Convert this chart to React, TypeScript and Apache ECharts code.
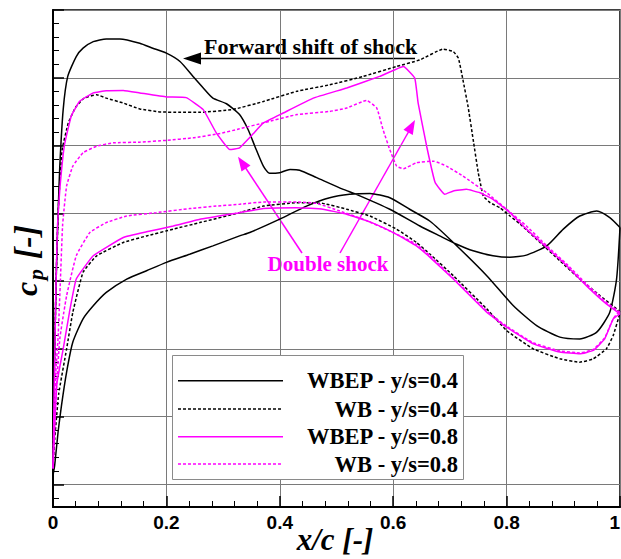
import React, { useEffect, useRef } from "react";
import * as echarts from "echarts";

// Pressure coefficient distributions, [x/c, cp], each surface listed from the leading edge aft.
const wbep04Upper: number[][] = [
  [0, 0.56], [0.001, 0.3], [0.003, 0.0], [0.006, -0.35], [0.009, -0.6], [0.012, -0.81], [0.018, -1.06],
  [0.026, -1.206], [0.041, -1.294], [0.053, -1.331], [0.071, -1.36], [0.094, -1.372], [0.118, -1.372],
  [0.153, -1.353], [0.176, -1.331], [0.2, -1.309], [0.224, -1.272], [0.247, -1.206], [0.265, -1.155],
  [0.282, -1.11], [0.306, -1.085], [0.329, -1.037], [0.344, -0.971], [0.356, -0.897], [0.371, -0.809],
  [0.382, -0.777], [0.4, -0.78], [0.418, -0.794], [0.435, -0.791], [0.465, -0.758], [0.512, -0.706],
  [0.535, -0.684], [0.594, -0.618], [0.647, -0.544], [0.682, -0.5], [0.712, -0.463], [0.741, -0.434],
  [0.776, -0.412], [0.806, -0.405], [0.835, -0.415], [0.871, -0.456], [0.9, -0.53], [0.929, -0.588],
  [0.959, -0.61], [0.982, -0.581], [1.0, -0.537],
];
const wbep04Lower: number[][] = [
  [0, 0.56], [0.003, 0.515], [0.009, 0.367], [0.015, 0.25], [0.024, 0.103], [0.035, -0.03], [0.053, -0.133],
  [0.071, -0.191], [0.094, -0.25], [0.13, -0.309], [0.165, -0.346], [0.2, -0.383], [0.241, -0.419],
  [0.282, -0.456], [0.329, -0.5], [0.347, -0.515], [0.4, -0.574], [0.447, -0.632], [0.488, -0.669],
  [0.523, -0.684], [0.559, -0.688], [0.594, -0.669], [0.629, -0.618], [0.665, -0.565], [0.706, -0.471],
  [0.765, -0.324], [0.812, -0.191], [0.853, -0.103], [0.894, -0.052], [0.929, -0.044], [0.959, -0.074],
  [0.982, -0.162], [0.994, -0.31], [1.0, -0.537],
];
const wb04Upper: number[][] = [
  [0, 0.53], [0.002, 0.2], [0.005, -0.25], [0.009, -0.6], [0.016, -0.88], [0.027, -1.0], [0.04, -1.07],
  [0.055, -1.11], [0.077, -1.125], [0.094, -1.11], [0.124, -1.088], [0.153, -1.062], [0.188, -1.049],
  [0.224, -1.047], [0.259, -1.047], [0.318, -1.06], [0.371, -1.095], [0.43, -1.14], [0.488, -1.169],
  [0.547, -1.206], [0.606, -1.25], [0.647, -1.279], [0.688, -1.327], [0.706, -1.316], [0.715, -1.287],
  [0.723, -1.191], [0.732, -1.073], [0.741, -0.927], [0.75, -0.78], [0.756, -0.706], [0.759, -0.676],
  [0.771, -0.647], [0.788, -0.625], [0.806, -0.588], [0.824, -0.552], [0.859, -0.471], [0.894, -0.39],
  [0.929, -0.309], [0.965, -0.235], [0.994, -0.177], [1.0, -0.162],
];
const wb04Lower: number[][] = [
  [0, 0.53], [0.003, 0.4], [0.01, 0.2], [0.024, 0.0], [0.035, -0.162], [0.053, -0.339], [0.077, -0.412],
  [0.124, -0.471], [0.165, -0.5], [0.212, -0.53], [0.259, -0.559], [0.329, -0.603], [0.371, -0.632],
  [0.43, -0.647], [0.476, -0.644], [0.518, -0.618], [0.559, -0.588], [0.606, -0.53], [0.641, -0.471],
  [0.665, -0.419], [0.706, -0.324], [0.765, -0.177], [0.8, -0.081], [0.847, 0.0], [0.894, 0.044],
  [0.929, 0.059], [0.953, 0.044], [0.976, 0.0], [0.988, -0.059], [0.997, -0.133], [1.0, -0.162],
];
const wbep08Upper: number[][] = [
  [0, 0.53], [0.002, 0.2], [0.005, -0.25], [0.008, -0.55], [0.012, -0.706], [0.02, -0.9], [0.032, -1.029],
  [0.047, -1.096], [0.071, -1.133], [0.094, -1.143], [0.124, -1.144], [0.153, -1.133], [0.2, -1.115],
  [0.235, -1.112], [0.265, -1.059], [0.288, -0.956], [0.312, -0.882], [0.329, -0.89], [0.353, -0.952],
  [0.371, -1.0], [0.406, -1.044], [0.459, -1.11], [0.518, -1.155], [0.576, -1.206], [0.618, -1.25],
  [0.638, -1.199], [0.644, -1.088], [0.659, -0.897], [0.674, -0.736], [0.691, -0.684], [0.706, -0.699],
  [0.729, -0.706], [0.753, -0.691], [0.776, -0.662], [0.806, -0.603], [0.835, -0.53], [0.871, -0.449],
  [0.906, -0.368], [0.941, -0.279], [0.976, -0.199], [1.0, -0.155],
];
const wbep08Lower: number[][] = [
  [0, 0.53], [0.003, 0.35], [0.007, 0.15], [0.018, 0.0], [0.029, -0.162], [0.041, -0.309], [0.071, -0.412],
  [0.124, -0.493], [0.165, -0.518], [0.212, -0.544], [0.259, -0.574], [0.329, -0.603], [0.371, -0.621],
  [0.43, -0.625], [0.476, -0.618], [0.518, -0.596], [0.559, -0.562], [0.606, -0.507], [0.641, -0.456],
  [0.665, -0.405], [0.706, -0.309], [0.765, -0.162], [0.8, -0.096], [0.847, -0.022], [0.894, 0.014],
  [0.929, 0.022], [0.953, 0.007], [0.973, -0.044], [0.988, -0.133], [1.0, -0.155],
];
const wb08Upper: number[][] = [
  [0, 0.53], [0.002, 0.3], [0.005, 0.1], [0.009, -0.05], [0.013, -0.3], [0.017, -0.55], [0.024, -0.721],
  [0.035, -0.809], [0.053, -0.868], [0.077, -0.897], [0.106, -0.912], [0.153, -0.915], [0.2, -0.923],
  [0.247, -0.934], [0.294, -0.953], [0.329, -0.974], [0.371, -1.0], [0.43, -1.037], [0.488, -1.051],
  [0.518, -1.066], [0.553, -1.1], [0.571, -1.066], [0.582, -0.971], [0.594, -0.882], [0.606, -0.809],
  [0.618, -0.797], [0.641, -0.824], [0.671, -0.831], [0.694, -0.809], [0.723, -0.765], [0.765, -0.691],
  [0.8, -0.618], [0.835, -0.544], [0.871, -0.456], [0.906, -0.375], [0.941, -0.287], [0.976, -0.206],
  [1.0, -0.162],
];
const wb08Lower: number[][] = [
  [0, 0.53], [0.003, 0.3], [0.012, -0.044], [0.024, -0.235], [0.041, -0.412], [0.065, -0.515],
  [0.094, -0.559], [0.13, -0.588], [0.182, -0.603], [0.241, -0.621], [0.288, -0.632], [0.329, -0.64],
  [0.371, -0.65], [0.43, -0.65], [0.465, -0.644], [0.506, -0.61], [0.547, -0.574], [0.594, -0.522],
  [0.641, -0.463], [0.665, -0.412], [0.706, -0.313], [0.765, -0.168], [0.8, -0.1], [0.847, -0.027],
  [0.894, 0.009], [0.929, 0.018], [0.953, 0.002], [0.973, -0.049], [0.988, -0.133], [1.0, -0.17],
];

const seriesNames = ["WBEP - y/s=0.4", "WB - y/s=0.4", "WBEP - y/s=0.8", "WB - y/s=0.8"];
const seriesColors = ["#000000", "#000000", "#ff00ff", "#ff00ff"];
const seriesDashes: (number[] | "solid")[] = ["solid", [3, 2], "solid", [3, 2]];
const seriesSmooth = [0.2, 0.12, 0.1, 0.12];

const SERIF = "'Liberation Serif', 'Times New Roman', serif";
const SANS = "'Liberation Sans', Arial, sans-serif";
const MAGENTA = "#ff00ff";

// one closed contour per case: trailing edge -> upper surface -> leading edge -> lower surface -> trailing edge
const contour = (upper: number[][], lower: number[][]) => [...upper.slice().reverse(), ...lower.slice(1)];

export default function App() {
  const ref = useRef<HTMLDivElement>(null);

  useEffect(() => {
    if (!ref.current) return;
    const chart = echarts.init(ref.current, undefined, { renderer: "svg" });
    const curves = [
      contour(wbep04Upper, wbep04Lower),
      contour(wb04Upper, wb04Lower),
      contour(wbep08Upper, wbep08Lower),
      contour(wb08Upper, wb08Lower),
    ];

    const legendRows = [380.7, 409, 436.7, 464];
    const legendItems: any[] = [
      {
        type: "rect",
        shape: { x: 172.5, y: 355.5, width: 291, height: 124 },
        style: { fill: "#fff", stroke: "#8a8a8a", lineWidth: 1 },
        z: 10,
      },
    ];
    seriesNames.forEach((name, i) => {
      legendItems.push({
        type: "line",
        shape: { x1: 178, y1: legendRows[i], x2: 283, y2: legendRows[i] },
        style: { stroke: seriesColors[i], lineWidth: 1.5, lineDash: seriesDashes[i] === "solid" ? null : seriesDashes[i] },
        z: 11,
      });
      legendItems.push({
        type: "text",
        x: 458,
        y: legendRows[i],
        style: {
          text: name,
          fill: "#000",
          font: `bold 22.5px ${SERIF}`,
          textAlign: "right",
          textVerticalAlign: "middle",
        },
        z: 11,
      });
    });

    const annotations: any[] = [
      // forward shift of shock
      {
        type: "text",
        x: 204,
        y: 46,
        style: { text: "Forward shift of shock", fill: "#000", font: `bold 22px ${SERIF}`, textAlign: "left", textVerticalAlign: "middle" },
      },
      { type: "line", shape: { x1: 415, y1: 58.5, x2: 198, y2: 58.5 }, style: { stroke: "#000", lineWidth: 1.5 } },
      { type: "polygon", shape: { points: [[183, 58.5], [201, 52.5], [201, 64.5]] }, style: { fill: "#000" } },
      // double shock
      {
        type: "text",
        x: 328,
        y: 264,
        style: { text: "Double shock", fill: MAGENTA, font: `bold 21px ${SERIF}`, textAlign: "center", textVerticalAlign: "middle" },
      },
      { type: "line", shape: { x1: 302, y1: 253, x2: 245, y2: 167 }, style: { stroke: MAGENTA, lineWidth: 1.5 } },
      { type: "polygon", shape: { points: [[238, 156.7], [250.5, 165.5], [241.5, 171.5]] }, style: { fill: MAGENTA } },
      { type: "line", shape: { x1: 340, y1: 253, x2: 409, y2: 131 }, style: { stroke: MAGENTA, lineWidth: 1.5 } },
      { type: "polygon", shape: { points: [[415, 120], [412.8, 135], [403.5, 129.8]] }, style: { fill: MAGENTA } },
      // y axis title c_p [-]
      {
        type: "group",
        x: 26,
        y: 296,
        rotation: Math.PI / 2,
        children: [
          { type: "text", x: 0, y: 0, style: { text: "c", fill: "#000", font: `italic bold 32px ${SERIF}`, textAlign: "left", textVerticalAlign: "middle" } },
          { type: "text", x: 16, y: 9, style: { text: "p", fill: "#000", font: `italic bold 22px ${SERIF}`, textAlign: "left", textVerticalAlign: "middle" } },
          { type: "text", x: 37, y: 0, style: { text: "[-]", fill: "#000", font: `italic bold 34px ${SERIF}`, textAlign: "left", textVerticalAlign: "middle" } },
        ],
      },
      // x axis title
      {
        type: "text",
        x: 335,
        y: 539,
        style: { text: "x/c [-]", fill: "#000", font: `italic bold 31px ${SERIF}`, textAlign: "center", textVerticalAlign: "middle" },
      },
    ];

    chart.setOption({
      animation: false,
      backgroundColor: "#ffffff",
      grid: {
        left: 53,
        right: 1,
        top: 10,
        bottom: 52,
        containLabel: false,
        outerBoundsMode: "none",
        show: true,
        borderColor: "#000",
        borderWidth: 1.5,
        backgroundColor: "transparent",
      },
      xAxis: {
        type: "value",
        min: 0,
        max: 1,
        interval: 0.2,
        axisLine: { onZero: false, lineStyle: { color: "#000", width: 2 } },
        axisTick: { inside: true, length: 11, lineStyle: { color: "#000", width: 1.5 } },
        minorTick: { show: true, splitNumber: 5, length: 6, lineStyle: { color: "#000", width: 1 } },
        axisLabel: {
          margin: 6,
          color: "#000",
          fontSize: 19,
          fontWeight: "bold",
          fontFamily: SANS,
          alignMaxLabel: "right",
        },
        splitLine: { show: true, lineStyle: { color: "#7a7a7a", width: 1 } },
      },
      yAxis: {
        type: "value",
        inverse: true,
        min: -1.5,
        max: 0.7,
        interval: 0.3,
        axisLine: { onZero: false, lineStyle: { color: "#000", width: 2 } },
        axisTick: { inside: true, length: 11, lineStyle: { color: "#000", width: 1.5 } },
        minorTick: { show: true, splitNumber: 5, length: 6, lineStyle: { color: "#000", width: 1 } },
        axisLabel: { show: false },
        splitLine: { show: true, lineStyle: { color: "#7a7a7a", width: 1 } },
      },
      series: curves.map((data, i) => ({
        name: seriesNames[i],
        type: "line",
        data,
        showSymbol: false,
        symbol: "none",
        smooth: seriesSmooth[i],
        lineStyle: { color: seriesColors[i], width: 1.5, type: seriesDashes[i] },
        z: 2 + i,
      })),
      graphic: [...annotations, ...legendItems],
    });

    return () => chart.dispose();
  }, []);

  return <div ref={ref} style={{ position: "absolute", left: 0, top: 0, width: 621, height: 559 }} />;
}
